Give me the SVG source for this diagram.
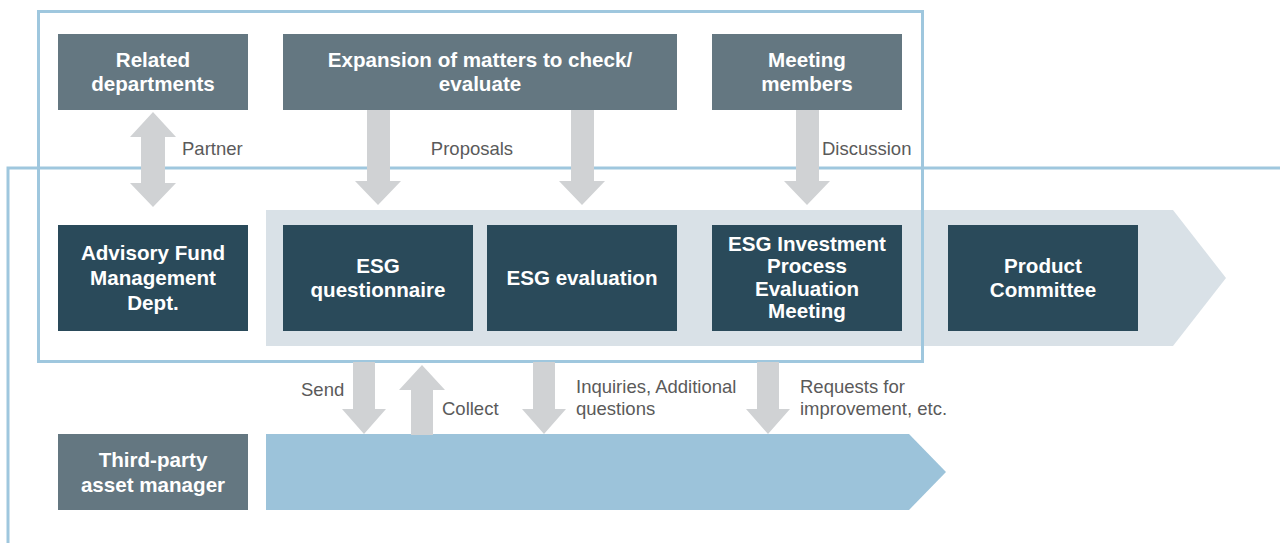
<svg xmlns="http://www.w3.org/2000/svg" width="1280" height="543" viewBox="0 0 1280 543">
<style>
.lite{fill:#647781}
.dark{fill:#2a4a5a}
.nt{font-family:"Liberation Sans",Arial,sans-serif;font-size:20.6px;font-weight:bold;fill:#ffffff;text-anchor:middle}
.lb{font-family:"Liberation Sans",Arial,sans-serif;font-size:18.5px;fill:#5a5a5a}
.arr{fill:#d0d2d4}
.frame{fill:none;stroke:#9fc7de;stroke-width:3}
</style>
<rect width="1280" height="543" fill="#ffffff"/>
<g id="bands">
<polygon points="266,210 1173,210 1226,278 1173,346 266,346" fill="#d9e1e7"/>
<polygon points="266,434 909,434 946,472 909,510 266,510" fill="#9cc3da"/>
</g>
<g id="frames">
<rect class="frame" x="38.5" y="11.5" width="884" height="350"/>
<polyline class="frame" points="1280,168 8,168 8,543"/>
</g>
<g id="connectors">
<polygon class="arr" points="153,112 176,137 165,137 165,183 176,183 153,207 130,183 141,183 141,137 130,137"/>
<polygon class="arr" points="367,110 390,110 390,181 401,181 378,205 355,181 367,181"/>
<polygon class="arr" points="571,110 594,110 594,181 605,181 582,205 559,181 571,181"/>
<polygon class="arr" points="796,110 819,110 819,181 830,181 807,205 784,181 796,181"/>
<polygon class="arr" points="353,362 375,362 375,409 386,409 364,434 342,409 353,409"/>
<polygon class="arr" points="411,435 433,435 433,390 445,390 422,365 399,390 411,390"/>
<polygon class="arr" points="533,362 555,362 555,409 566,409 544,434 522,409 533,409"/>
<polygon class="arr" points="757,362 779,362 779,409 790,409 768,434 746,409 757,409"/>
<text class="lb" x="182" y="155">Partner</text>
<text class="lb" x="472" y="155" text-anchor="middle">Proposals</text>
<text class="lb" x="822" y="155">Discussion</text>
<text class="lb" x="301" y="396">Send</text>
<text class="lb" x="442" y="415">Collect</text>
<text class="lb" x="576" y="393">Inquiries, Additional</text>
<text class="lb" x="576" y="415">questions</text>
<text class="lb" x="800" y="393">Requests for</text>
<text class="lb" x="800" y="415">improvement, etc.</text>
</g>
<g id="node-related">
<rect class="lite" x="58" y="34" width="190" height="76"/>
<text class="nt" x="153" y="67">Related</text>
<text class="nt" x="153" y="91">departments</text>
</g>
<g id="node-expansion">
<rect class="lite" x="283" y="34" width="394" height="76"/>
<text class="nt" x="480" y="67">Expansion of matters to check/</text>
<text class="nt" x="480" y="91">evaluate</text>
</g>
<g id="node-meeting-members">
<rect class="lite" x="712" y="34" width="190" height="76"/>
<text class="nt" x="807" y="67">Meeting</text>
<text class="nt" x="807" y="91">members</text>
</g>
<g id="node-advisory">
<rect class="dark" x="58" y="225" width="190" height="106"/>
<text class="nt" x="153" y="260">Advisory Fund</text>
<text class="nt" x="153" y="285">Management</text>
<text class="nt" x="153" y="310">Dept.</text>
</g>
<g id="node-questionnaire">
<rect class="dark" x="283" y="225" width="190" height="106"/>
<text class="nt" x="378" y="273">ESG</text>
<text class="nt" x="378" y="297">questionnaire</text>
</g>
<g id="node-evaluation">
<rect class="dark" x="487" y="225" width="190" height="106"/>
<text class="nt" x="582" y="285">ESG evaluation</text>
</g>
<g id="node-meeting">
<rect class="dark" x="712" y="225" width="190" height="106"/>
<text class="nt" x="807" y="251">ESG Investment</text>
<text class="nt" x="807" y="273">Process</text>
<text class="nt" x="807" y="296">Evaluation</text>
<text class="nt" x="807" y="318">Meeting</text>
</g>
<g id="node-product">
<rect class="dark" x="948" y="225" width="190" height="106"/>
<text class="nt" x="1043" y="273">Product</text>
<text class="nt" x="1043" y="297">Committee</text>
</g>
<g id="node-third-party">
<rect class="lite" x="58" y="434" width="190" height="76"/>
<text class="nt" x="153" y="467">Third-party</text>
<text class="nt" x="153" y="492">asset manager</text>
</g>
</svg>
